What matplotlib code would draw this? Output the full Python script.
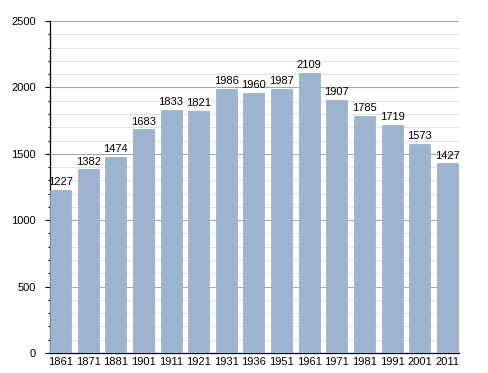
import matplotlib
matplotlib.use('Agg')
import matplotlib.pyplot as plt
import numpy as np
from matplotlib.ticker import MultipleLocator

years = ['1861', '1871', '1881', '1901', '1911', '1921', '1931',
         '1936', '1951', '1961', '1971', '1981', '1991', '2001', '2011']
population = [1227, 1382, 1474, 1683, 1833, 1821, 1986,
              1960, 1987, 2109, 1907, 1785, 1719, 1573, 1427]

plt.rcParams.update({"font.size": 8, "font.family": "Liberation Sans"})

fig = plt.figure(figsize=(4.88, 3.73), dpi=100)
ax = fig.add_axes([50/488, 20/373, 409/488, 332/373])

x = np.arange(len(years))
ax.bar(x, population, width=0.76, color='#9db4cf', edgecolor='#93aac6',
       linewidth=0.5, zorder=3)
for xi, v in zip(x, population):
    ax.text(xi, v + 22, str(v), ha='center', va='bottom', zorder=4)

ax.set_ylim(0, 2500)
ax.set_xlim(-0.38, 14.42)
ax.yaxis.set_major_locator(MultipleLocator(500))
ax.yaxis.set_minor_locator(MultipleLocator(100))
ax.grid(axis='y', which='major', color='#a8a8a8', linewidth=0.8, zorder=0)
ax.grid(axis='y', which='minor', color='#e4e4e4', linewidth=0.8, zorder=0)
ax.set_xticks(x)
ax.set_xticklabels(years)
ax.tick_params(axis='x', length=0, pad=3)
ax.tick_params(axis='y', which='major', length=3.6, width=0.8, pad=6.5)
ax.tick_params(axis='y', which='minor', length=1.8, width=0.8)
for s in ['top', 'right']:
    ax.spines[s].set_visible(False)
ax.spines['left'].set_linewidth(0.9)
ax.spines['bottom'].set_linewidth(0.9)

fig.savefig('out.png', dpi=100)
